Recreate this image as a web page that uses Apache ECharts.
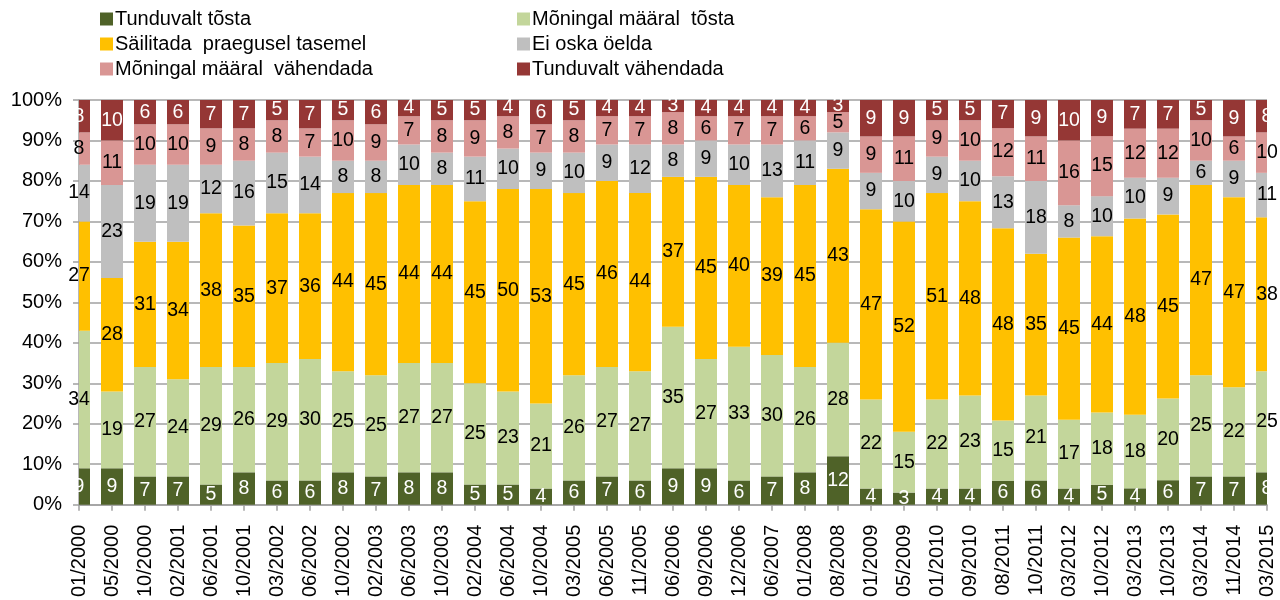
<!DOCTYPE html>
<html>
<head>
<meta charset="utf-8">
<script src="https://cdn.jsdelivr.net/npm/echarts@6/dist/echarts.min.js"></script>
<style>
  html, body { margin: 0; padding: 0; background: #fff; }
  #chart { width: 1280px; height: 600px; }
</style>
</head>
<body>
<div id="chart"></div>
<script>
const categories = ["01/2000","05/2000","10/2000","02/2001","06/2001","10/2001","03/2002","06/2002","10/2002","02/2003","06/2003","10/2003","02/2004","06/2004","10/2004","03/2005","06/2005","11/2005","06/2006","09/2006","12/2006","06/2007","01/2008","08/2008","01/2009","05/2009","01/2010","09/2010","08/2011","10/2011","03/2012","10/2012","03/2013","10/2013","03/2014","11/2014","03/2015"];

const seriesNames = ["Tunduvalt tõsta","Mõningal määral  tõsta","Säilitada  praegusel tasemel","Ei oska öelda","Mõningal määral  vähendada","Tunduvalt vähendada"];

const tunduvaltTosta     = [9,9,7,7,5,8,6,6,8,7,8,8,5,5,4,6,7,6,9,9,6,7,8,12,4,3,4,4,6,6,4,5,4,6,7,7,8];
const moningalTosta      = [34,19,27,24,29,26,29,30,25,25,27,27,25,23,21,26,27,27,35,27,33,30,26,28,22,15,22,23,15,21,17,18,18,20,25,22,25];
const sailitada          = [27,28,31,34,38,35,37,36,44,45,44,44,45,50,53,45,46,44,37,45,40,39,45,43,47,52,51,48,48,35,45,44,48,45,47,47,38];
const eiOska             = [14,23,19,19,12,16,15,14,8,8,10,8,11,10,9,10,9,12,8,9,10,13,11,9,9,10,9,10,13,18,8,10,10,9,6,9,11];
const moningalVahendada  = [8,11,10,10,9,8,8,7,10,9,7,8,9,8,7,8,7,7,8,6,7,7,6,5,9,11,9,10,12,11,16,15,12,12,10,6,10];
const tunduvaltVahendada = [8,10,6,6,7,7,5,7,5,6,4,5,5,4,6,5,4,4,3,4,4,4,4,3,9,9,5,5,7,9,10,9,7,7,5,9,8];

const yTicks = [0,10,20,30,40,50,60,70,80,90,100];

const colors = ["#4F6228","#C3D69B","#FFC000","#BFBFBF","#D99694","#953735"];
const labelColors = ["#FFFFFF","#000000","#000000","#000000","#000000","#FFFFFF"];
const rawSeries = [tunduvaltTosta, moningalTosta, sailitada, eiOska, moningalVahendada, tunduvaltVahendada];

const FONT = "'Liberation Sans', Arial, sans-serif";
const BAR_W = 22;

// 100% stacked: each segment as share of its category total
const totals = categories.map((_, i) => rawSeries.reduce((s, arr) => s + arr[i], 0));
const stackData = [];
const running = categories.map(() => 0);
rawSeries.forEach((arr, k) => {
  stackData.push(arr.map((v, i) => {
    const lo = running[i];
    const hi = lo + v / totals[i] * 100;
    running[i] = hi;
    return [i, lo, hi, v];
  }));
});

function makeRender(k) {
  return function (params, api) {
    const i = api.value(0);
    const p0 = api.coord([i, api.value(1)]);
    const p1 = api.coord([i, api.value(2)]);
    const full = { x: p0[0] - BAR_W / 2, y: p1[1], width: BAR_W, height: p0[1] - p1[1] };
    const cs = params.coordSys;
    const clipped = echarts.graphic.clipRectByRect(full, { x: cs.x, y: cs.y, width: cs.width, height: cs.height });
    const children = [];
    if (clipped) {
      children.push({ type: 'rect', shape: clipped, style: { fill: api.visual('color') } });
    }
    children.push({
      type: 'text',
      z2: 100,
      x: p0[0],
      y: (p0[1] + p1[1]) / 2,
      style: {
        text: String(api.value(3)),
        fill: labelColors[k],
        font: "19.5px " + FONT,
        align: 'center',
        verticalAlign: 'middle'
      }
    });
    return { type: 'group', children: children };
  };
}

const series = rawSeries.map((arr, k) => ({
  name: seriesNames[k],
  type: 'custom',
  itemStyle: { color: colors[k] },
  renderItem: makeRender(k),
  encode: { x: 0, y: [1, 2] },
  data: stackData[k]
}));

const legendCommon = {
  orient: 'vertical',
  top: 9,
  padding: 0,
  itemGap: 5,
  itemWidth: 13,
  itemHeight: 13,
  icon: 'rect',
  selectedMode: false,
  textStyle: { fontFamily: FONT, fontSize: 20, color: '#000', padding: [0,0,0,-3] }
};

const option = {
  animation: false,
  backgroundColor: '#ffffff',
  legend: [
    Object.assign({ left: 100, data: [seriesNames[0], seriesNames[2], seriesNames[4]] }, legendCommon),
    Object.assign({ left: 517, data: [seriesNames[1], seriesNames[3], seriesNames[5]] }, legendCommon)
  ],
  grid: { left: 79, right: 13, top: 100, bottom: 93, containLabel: false },
  xAxis: {
    type: 'category',
    data: categories,
    boundaryGap: false,
    axisLine: { lineStyle: { color: '#A0A0A0', width: 1.5 } },
    axisTick: { show: true, interval: 0, length: 6, lineStyle: { color: '#A0A0A0', width: 1.5 } },
    axisLabel: { interval: 0, rotate: 90, margin: 20, fontFamily: FONT, fontSize: 20, color: '#000' },
    splitLine: { show: false }
  },
  yAxis: {
    type: 'value',
    min: yTicks[0],
    max: yTicks[yTicks.length - 1],
    interval: yTicks[1] - yTicks[0],
    axisLine: { show: true, lineStyle: { color: '#A0A0A0', width: 1.5 } },
    axisTick: { show: true, length: 6, lineStyle: { color: '#A0A0A0', width: 1.5 } },
    axisLabel: { margin: 17, fontFamily: FONT, fontSize: 20, color: '#000', formatter: '{value}%' },
    splitLine: { show: true, lineStyle: { color: '#A0A0A0', width: 1.5 } }
  },
  series: series
};

const chart = echarts.init(document.getElementById('chart'), null, { renderer: 'canvas' });
chart.setOption(option);
</script>
</body>
</html>
